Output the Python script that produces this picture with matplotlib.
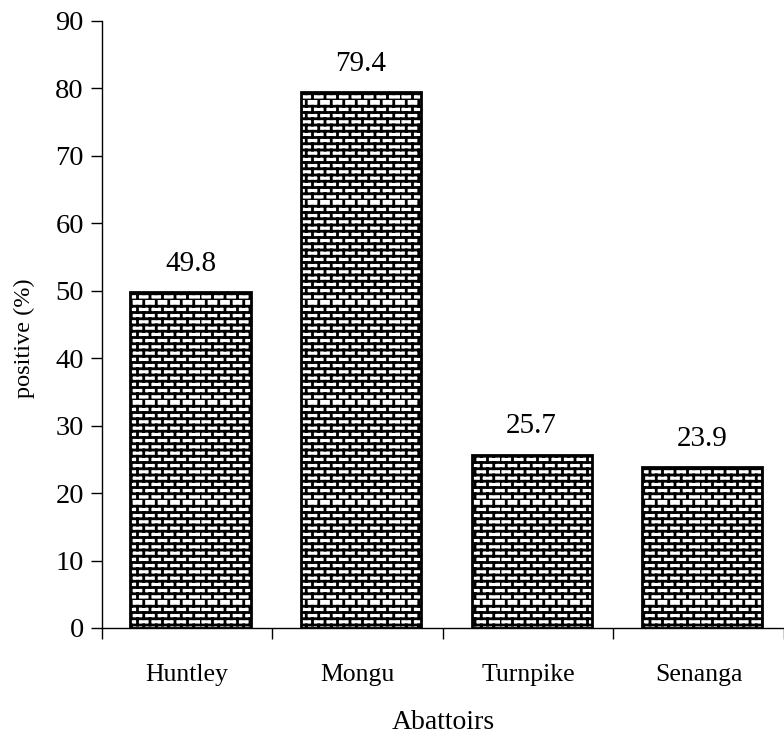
import numpy as np
import matplotlib
matplotlib.use("Agg")
import matplotlib.pyplot as plt
from matplotlib import hatch as mhatch
from matplotlib.path import Path

categories = ["Huntley", "Mongu", "Turnpike", "Senanga"]
values = [49.8, 79.4, 25.7, 23.9]
yticks = [0, 10, 20, 30, 40, 50, 60, 70, 80, 90]


# brick hatch: rows of horizontal mortar lines with staggered joints
class BrickHatch(mhatch.HatchPatternBase):
    def __init__(self, hatch, density):
        n = hatch.count('-')
        self.rows = 15 * n
        if self.rows % 2:
            self.rows += 1
        self.cols = 8 * n
        self.num_vertices = (self.rows + self.rows * self.cols) * 2 if n else 0

    def set_vertices_and_codes(self, vertices, codes):
        k = 0
        for i in range(self.rows):
            y0 = i / self.rows
            y1 = (i + 1) / self.rows
            vertices[k] = (0.0, y0)
            vertices[k + 1] = (1.0, y0)
            k += 2
            off = 0.5 / self.cols if i % 2 else 0.0
            for j in range(self.cols):
                x = j / self.cols + off
                vertices[k] = (x, y0)
                vertices[k + 1] = (x, y1)
                k += 2
        codes[0::2] = Path.MOVETO
        codes[1::2] = Path.LINETO


mhatch._hatch_types = [BrickHatch]

plt.rcParams['font.family'] = ['Liberation Serif', 'DejaVu Serif']
plt.rcParams['hatch.linewidth'] = 2.0
plt.rcParams['hatch.color'] = 'black'

fig = plt.figure(figsize=(7.84, 7.41), dpi=100)
ax = fig.add_axes([0.130, 0.1525, 0.870, 0.8192])

x = np.arange(len(categories))
bars = ax.bar(x + 0.02, values, width=0.705, facecolor='white', edgecolor='black',
              linewidth=2.0, hatch='-')
ax.bar_label(bars, labels=[f"{v:.1f}" for v in values], padding=11, fontsize=21)

ax.set_ylim(0, 90)
ax.set_xlim(-0.5, 3.472)
ax.set_yticks(yticks)
ax.tick_params(axis='y', labelsize=20.5, length=8, width=1, direction='out', pad=5)

ax.set_xticks(np.arange(len(categories) + 1) - 0.5)
ax.set_xticklabels([])
ax.set_xticks(x, minor=True)
ax.set_xticklabels(categories, minor=True)
ax.tick_params(axis='x', which='major', length=8, width=1, direction='out')
ax.tick_params(axis='x', which='minor', length=0, labelsize=18.5, pad=26)

ax.spines['top'].set_visible(False)
ax.spines['right'].set_visible(False)
ax.spines['left'].set_linewidth(1)
ax.spines['bottom'].set_linewidth(1)

ax.set_ylabel("positive (%)", fontsize=17.5)
ax.yaxis.set_label_coords(-0.098, 0.478)
ax.set_xlabel("Abattoirs", fontsize=20, labelpad=17)

fig.savefig("out.png", dpi=100)
